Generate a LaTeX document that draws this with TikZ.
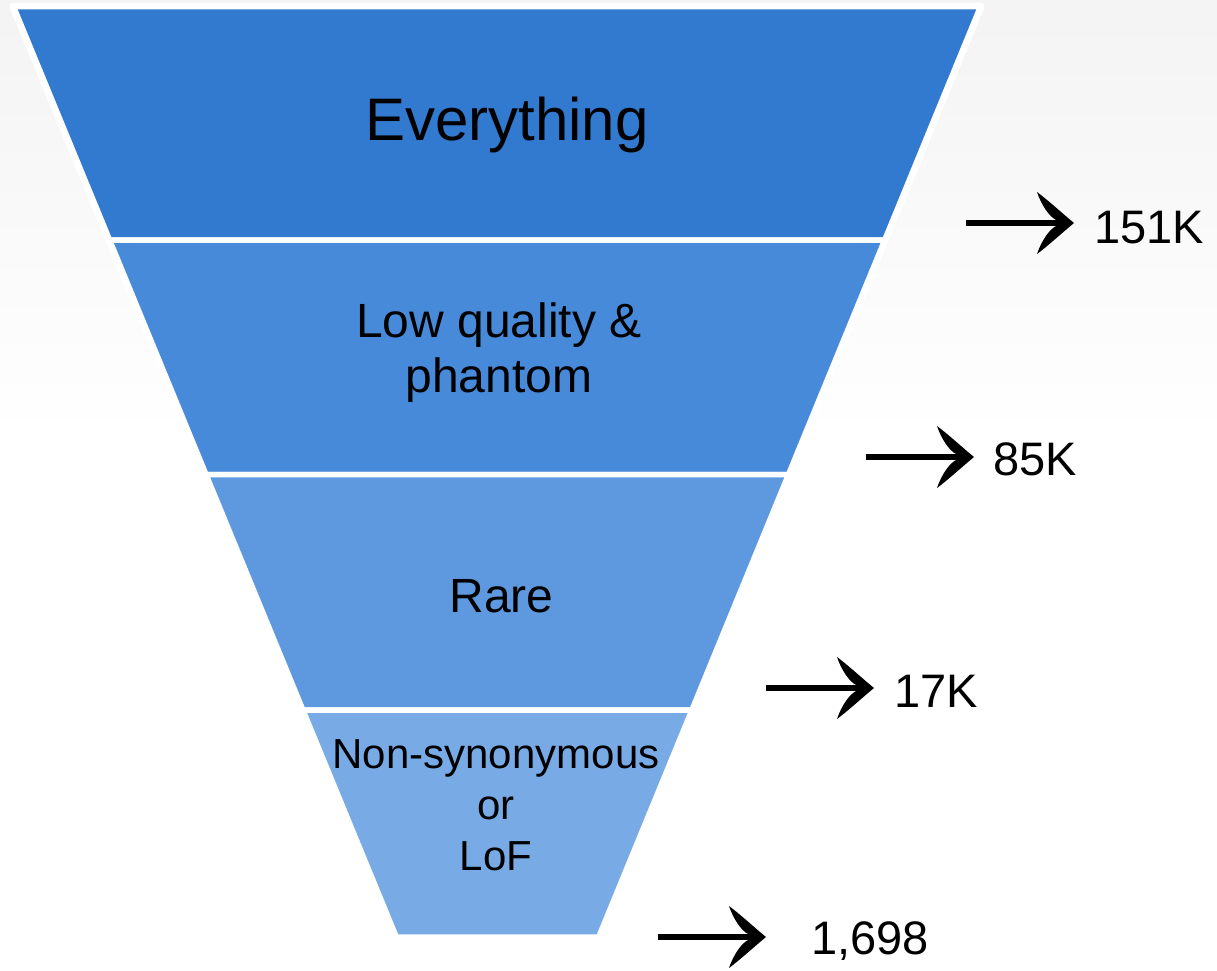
\documentclass[tikz,border=0pt]{standalone}
\usepackage{fontspec}
\setmainfont{Liberation Sans}
\usepackage{xcolor}
\usetikzlibrary{arrows.meta}

\definecolor{tierA}{RGB}{50,121,208}
\definecolor{tierB}{RGB}{72,138,218}
\definecolor{tierC}{RGB}{94,153,223}
\definecolor{tierD}{RGB}{120,170,229}

% curved, filled barb head for the count arrows
\pgfdeclarearrow{
  name = Swoosh,
  setup code = {
    \pgfarrowssettipend{0pt}
    \pgfarrowssetlineend{-14pt}
    \pgfarrowssetbackend{-36pt}
    \pgfarrowshullpoint{0pt}{0pt}
    \pgfarrowshullpoint{-36pt}{31pt}
    \pgfarrowshullpoint{-36pt}{-31pt}
  },
  drawing code = {
    \pgfpathmoveto{\pgfqpoint{1pt}{0pt}}
    \pgfpathcurveto{\pgfqpoint{-10pt}{9pt}}{\pgfqpoint{-24pt}{22pt}}{\pgfqpoint{-36pt}{31pt}}
    \pgfpathcurveto{\pgfqpoint{-32pt}{19pt}}{\pgfqpoint{-24pt}{6pt}}{\pgfqpoint{-16pt}{2.5pt}}
    \pgfpathlineto{\pgfqpoint{-16pt}{-2.5pt}}
    \pgfpathcurveto{\pgfqpoint{-24pt}{-6pt}}{\pgfqpoint{-32pt}{-19pt}}{\pgfqpoint{-36pt}{-31pt}}
    \pgfpathcurveto{\pgfqpoint{-24pt}{-22pt}}{\pgfqpoint{-10pt}{-9pt}}{\pgfqpoint{1pt}{0pt}}
    \pgfpathclose
    \pgfusepathqfill
  }
}

\begin{document}
\begin{tikzpicture}[x=1pt,y=1pt,yscale=-1,xscale=1,
  tier/.style={draw=white, line width=5.5pt, line join=round},
  tiertext/.style={inner sep=0pt, anchor=base, align=center},
  numarrow/.style={line width=5.5pt, -Swoosh},
  count/.style={inner sep=0pt, anchor=base west, font=\fontsize{47}{53}\selectfont}]
\useasboundingbox (0,0) rectangle (1217,970);

%Shape: Background
\fill[white] (0,0) rectangle (1217,970);
\shade[top color=gray!9, bottom color=white] (0,0) rectangle (1217,440);

%Shape: Funnel outline
\draw[white, line width=8pt, line join=round, fill=white] (13.5,6.5) -- (980.5,6.5) -- (598.7,937) -- (396.3,937) -- cycle;

%Shape: Trapezoid [tier 1]
\draw[tier, fill=tierA] (13.5,6.5) -- (980.5,6.5) -- (884.7,240) -- (109.6,240) -- cycle;
%Shape: Trapezoid [tier 2]
\draw[tier, fill=tierB] (109.6,240) -- (884.7,240) -- (788.5,474.5) -- (206,474.5) -- cycle;
%Shape: Trapezoid [tier 3]
\draw[tier, fill=tierC] (206,474.5) -- (788.5,474.5) -- (691.9,710) -- (302.9,710) -- cycle;
%Shape: Trapezoid [tier 4]
\draw[tier, fill=tierD] (302.9,710) -- (691.9,710) -- (598.7,937) -- (396.3,937) -- cycle;

%Shape: Rectangle under the spout
\fill[white] (352,935) rectangle (632,970);

% Text Node
\node[tiertext, font=\fontsize{60}{66}\selectfont] (everything) at (507,140) {Everything};
% Text Node (base = last line)
\node[tiertext, font=\fontsize{48}{55}\selectfont] (lowq) at (499,392) {Low quality \&\\phantom};
% Text Node
\node[tiertext, font=\fontsize{48}{55}\selectfont] (rare) at (501.5,612) {Rare};
% Text Node (base = last line)
\node[tiertext, font=\fontsize{42}{51}\selectfont] (nonsyn) at (496,870) {Non-synonymous\\or\\LoF};

% Counts
\node[count] (n1) at (1094,243) {151K};
\node[count] (n2) at (993,475) {85K};
\node[count] (n3) at (894,707) {17K};
\node[count] (n4) at (811,954) {1,698};

\coordinate (s1) at (966,223);
\coordinate (s2) at (866,457);
\coordinate (s3) at (766,688);
\coordinate (s4) at (658,937);

\draw[numarrow, shorten >=21pt] (s1) -- (s1 -| n1.west);
\draw[numarrow, shorten >=20pt] (s2) -- (s2 -| n2.west);
\draw[numarrow, shorten >=21pt] (s3) -- (s3 -| n3.west);
\draw[numarrow, shorten >=46pt] (s4) -- (s4 -| n4.west);

\end{tikzpicture}
\end{document}
